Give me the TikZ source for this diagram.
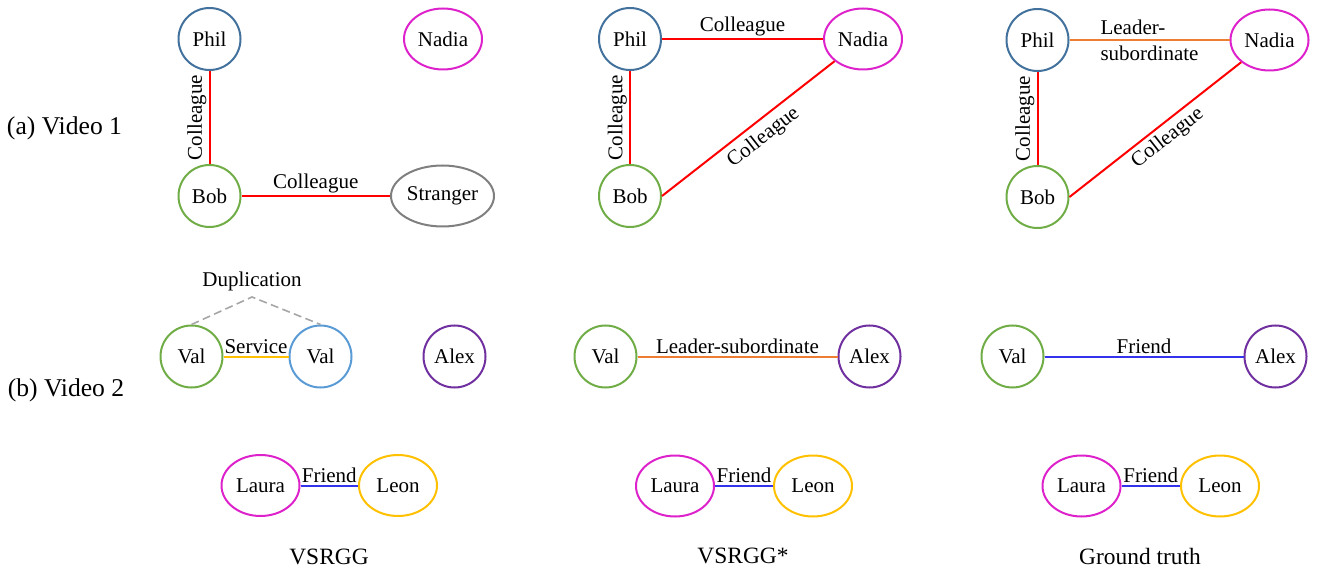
\documentclass[tikz,border=0pt]{standalone}
\usepackage{fontspec}
\setmainfont{Liberation Serif}
\usetikzlibrary{shapes.geometric}
\definecolor{philblue}{HTML}{41719C}
\definecolor{nadiamag}{HTML}{DD22CC}
\definecolor{bobgreen}{HTML}{70AD47}
\definecolor{strgray}{HTML}{7F7F7F}
\definecolor{valblue}{HTML}{5B9BD5}
\definecolor{alexpurple}{HTML}{7030A0}
\definecolor{gold}{HTML}{FFC000}
\definecolor{relred}{HTML}{FF0000}
\definecolor{relorange}{HTML}{ED7D31}
\definecolor{relblue}{HTML}{3333EE}
\definecolor{dupgray}{HTML}{A6A6A6}
\tikzset{
  person/.style={circle, draw=#1, line width=1pt, minimum size=31pt, inner sep=0pt},
  oval/.style={ellipse, draw=#1, line width=1pt, minimum width=39pt, minimum height=30.5pt, inner sep=0pt},
  rel/.style={draw=#1, line width=1pt},
  lbl/.style={inner sep=1pt, font=\fontsize{10.5}{13}\selectfont},
  txt/.style={inner sep=0pt, font=\fontsize{10.5}{13}\selectfont},
  rowlbl/.style={inner sep=0pt, font=\fontsize{12.8}{15}\selectfont},
  caption/.style={inner sep=0pt, font=\fontsize{11.7}{14}\selectfont},
  dup/.style={draw=dupgray, line width=0.8pt, dash pattern=on 4pt off 2.2pt}
}
\begin{document}
\begin{tikzpicture}[x=0.5pt, y=-0.5pt, font=\fontsize{10.5}{13}\selectfont]
\useasboundingbox (0,0) rectangle (1317,572);
% left labels
\node[rowlbl] (la) at (64.5,128) {(a) Video 1};
\node[rowlbl] (lb) at (66,390) {(b) Video 2};
% ---- Panel 1, row a
\node[person=philblue] (p1phil) at (209.5,39) {Phil};
\node[oval=nadiamag] (p1nadia) at (443,39) {Nadia};
\node[person=bobgreen] (p1bob) at (209.5,196) {Bob};
\node[oval=strgray, minimum width=51.5pt] (p1str) at (442.5,196) {Stranger};
\draw[rel=relred] (p1bob) -- node[lbl, sloped, above] {Colleague} (p1phil);
\draw[rel=relred] (p1bob) -- node[lbl, above] {Colleague} (p1str);
% ---- Panel 2, row a
\node[person=philblue] (p2phil) at (630,39) {Phil};
\node[oval=nadiamag] (p2nadia) at (863,39) {Nadia};
\node[person=bobgreen] (p2bob) at (630,196) {Bob};
\draw[rel=relred] (p2phil) -- node[lbl, above] {Colleague} (p2nadia);
\draw[rel=relred] (p2bob) -- node[lbl, sloped, above] {Colleague} (p2phil);
\draw[rel=relred] (p2bob.east) -- node[lbl, sloped, below=2pt, pos=0.53] {Colleague} (p2nadia);
% ---- Panel 3, row a
\node[person=philblue] (p3phil) at (1037.5,40) {Phil};
\node[oval=nadiamag] (p3nadia) at (1269.5,40) {Nadia};
\node[person=bobgreen] (p3bob) at (1037.5,197) {Bob};
\draw[rel=relorange] (p3phil) -- node[lbl, align=left] {Leader-\\subordinate} (p3nadia);
\draw[rel=relred] (p3bob) -- node[lbl, sloped, above] {Colleague} (p3phil);
\draw[rel=relred] (p3bob.east) -- node[lbl, sloped, below=1pt, pos=0.52] {Colleague} (p3nadia);
% ---- Panel 1, row b
\node[person=bobgreen] (q1val) at (191.5,356.5) {Val};
\node[person=valblue] (q1val2) at (320.5,356.5) {Val};
\node[person=alexpurple] (q1alex) at (454.5,356.5) {Alex};
\draw[rel=gold] (q1val) -- node[lbl, above] {Service} (q1val2);
\node[txt] (dupl) at (252,281) {Duplication};
\coordinate (apex) at (252,297);
\draw[dup] (q1val.north) -- (apex) -- (q1val2.north);
% ---- Panel 2, row b
\node[person=bobgreen] (q2val) at (605.5,356.5) {Val};
\node[person=alexpurple] (q2alex) at (869.5,356.5) {Alex};
\draw[rel=relorange] (q2val) -- node[lbl, above] {Leader-subordinate} (q2alex);
% ---- Panel 3, row b
\node[person=bobgreen] (q3val) at (1012.5,356.5) {Val};
\node[person=alexpurple] (q3alex) at (1275.5,356.5) {Alex};
\draw[rel=relblue] (q3val) -- node[lbl, above] {Friend} (q3alex);
% ---- bottom row
\node[oval=nadiamag] (r1laura) at (260.5,485.5) {Laura};
\node[oval=gold] (r1leon) at (398,485.5) {Leon};
\draw[rel=relblue] (r1laura) -- node[lbl, above] {Friend} (r1leon);
\node[oval=nadiamag] (r2laura) at (675,486) {Laura};
\node[oval=gold] (r2leon) at (813,486) {Leon};
\draw[rel=relblue] (r2laura) -- node[lbl, above] {Friend} (r2leon);
\node[oval=nadiamag] (r3laura) at (1081.5,486) {Laura};
\node[oval=gold] (r3leon) at (1220,486) {Leon};
\draw[rel=relblue] (r3laura) -- node[lbl, above] {Friend} (r3leon);
% captions
\node[caption] (c1) at (329,557) {VSRGG};
\node[caption] (c2) at (743,556) {VSRGG*};
\node[caption] (c3) at (1140,556) {Ground truth};
\end{tikzpicture}
\end{document}
